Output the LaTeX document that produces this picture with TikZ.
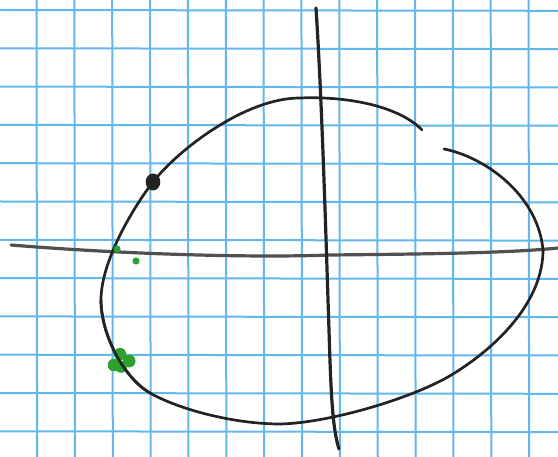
\documentclass[tikz,border=0pt]{standalone}
\usepackage{tikz}
\definecolor{gridblue}{RGB}{98,184,234}
\definecolor{pen}{RGB}{35,35,35}
\definecolor{pencil}{RGB}{80,80,80}
\definecolor{marker}{RGB}{46,160,46}
\tikzset{
  gridline/.style={gridblue, line width=2pt},
  curve/.style={pen, line width=2.7pt, line cap=round, line join=round},
  axisline/.style={pen, line width=3.2pt, line cap=round},
  pencilline/.style={pencil, line width=3.2pt, line cap=round},
  greendot/.style={fill=marker, draw=none},
}
\begin{document}
\begin{tikzpicture}[x=1pt,y=-1pt]
\fill[white] (0,0) rectangle (558,457);
\useasboundingbox (0,0) rectangle (558,457);
% graph paper grid
\foreach \k in {0,...,13}{
  \pgfmathsetmacro{\xx}{36.5+37.85*\k}
  \draw[gridline] (\xx,0) -- (\xx+0.6,457);
}
\foreach \k in {0,...,11}{
  \pgfmathsetmacro{\yy}{10+38.3*\k}
  \draw[gridline] (0,\yy) -- (558,\yy+0.8);
}
% horizontal axis
\coordinate (hl) at (11,245);
\coordinate (hr) at (558,248);
\draw[pencilline] (hl) .. controls (120,254) and (250,258) .. (330,255)
   .. controls (430,254) and (510,253) .. (hr);
% vertical axis
\coordinate (vt) at (316,8);
\coordinate (vb) at (339,449);
\draw[axisline] (vt) .. controls (322,100) and (326,240) .. (329,330)
   .. controls (331,400) and (333,430) .. (vb);
% the closed curve (with a gap at upper right)
\coordinate (cs) at (444,149);
\coordinate (cr) at (543,250);
\coordinate (c1) at (453,374);
\coordinate (cb) at (280,424);
\coordinate (c2) at (150,393);
\coordinate (cl) at (101,300);
\coordinate (bd) at (153,182);
\coordinate (ct) at (300,98);
\coordinate (ce) at (422,130);
\draw[curve] (cs) .. controls (485,157) and (538,195) .. (cr)
  .. controls (543,300) and (500,345) .. (c1)
  .. controls (415,397.5) and (330,423) .. (cb)
  .. controls (235,424) and (180,410) .. (c2)
  .. controls (124,378) and (101,335) .. (cl)
  .. controls (101,260) and (135,205) .. (bd)
  .. controls (178,150) and (245,98) .. (ct)
  .. controls (350,96) and (400,107) .. (ce);
% black dot
\fill[pen] (bd) ellipse[x radius=7.3, y radius=8.5];
% green marks
\coordinate (g1) at (117,249);
\coordinate (g2) at (136,261);
\fill[greendot] (g1) circle[radius=3.6];
\fill[greendot] (g2) circle[radius=3.6];
\fill[greendot] (120,354) circle[radius=6.2];
\fill[greendot] (129,361) circle[radius=6.5];
\fill[greendot] (114,365) circle[radius=6.3];
\fill[greendot] (121,367) circle[radius=5.8];
% pen line over the green blob
\draw[curve] (c2) .. controls (124,378) and (101,335) .. (cl);
\end{tikzpicture}
\end{document}
